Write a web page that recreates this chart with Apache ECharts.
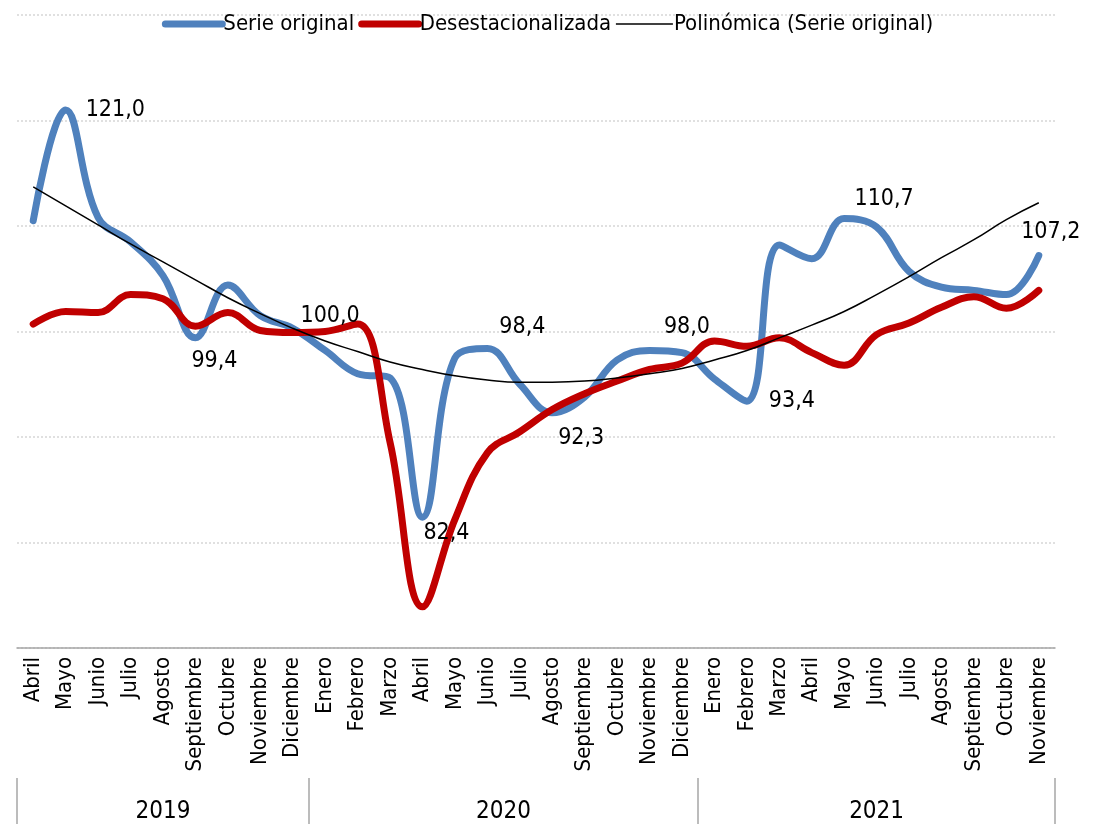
<!DOCTYPE html>
<html>
<head>
<meta charset="utf-8">
<script src="https://cdn.jsdelivr.net/npm/echarts@6/dist/echarts.min.js"></script>
<style>
  html, body { margin: 0; padding: 0; background: #fff; }
  #chart { width: 1095px; height: 824px; }
</style>
</head>
<body>
<div id="chart"></div>
<script>
// meses (abril 2019 - noviembre 2021)
const meses = [
  'Abril', 'Mayo', 'Junio', 'Julio', 'Agosto', 'Septiembre', 'Octubre', 'Noviembre', 'Diciembre',
  'Enero', 'Febrero', 'Marzo', 'Abril', 'Mayo', 'Junio', 'Julio', 'Agosto', 'Septiembre', 'Octubre', 'Noviembre', 'Diciembre',
  'Enero', 'Febrero', 'Marzo', 'Abril', 'Mayo', 'Junio', 'Julio', 'Agosto', 'Septiembre', 'Octubre', 'Noviembre'
]
const anios = ['2019', '2020', '2021']
const aniosCentro = [4.5, 15, 26.5]
const aniosLimites = [0, 9, 21, 32]

const serieOriginal = [
  110.5, 121.0, 110.8, 108.5, 105.3, 99.4, 104.4, 101.5, 100.3,
  98.2, 96.0, 95.6, 82.4, 97.5, 98.4, 95.0, 92.3, 93.8, 97.3, 98.2, 98.0,
  95.5, 93.4, 108.2, 106.9, 110.7, 109.9, 105.7, 104.2, 103.9, 103.5, 107.2
]
const desestacionalizada = [
  100.7, 101.9, 101.8, 103.5, 103.1, 100.5, 101.8, 100.1, 99.9,
  100.0, 100.7, 89.5, 73.9, 82.2, 88.5, 90.5, 92.6, 94.1, 95.3, 96.4, 97.0,
  99.1, 98.6, 99.4, 98.0, 96.8, 99.7, 100.8, 102.3, 103.3, 102.2, 103.9
]
const polinomica = [
  113.7, 111.9, 110.1, 108.3, 106.6, 104.9, 103.2, 101.7, 100.3,
  99.1, 98.1, 97.1, 96.4, 95.8, 95.4, 95.2, 95.2, 95.3, 95.6, 96.0, 96.5,
  97.3, 98.2, 99.4, 100.6, 101.9, 103.5, 105.2, 107.0, 108.7, 110.6, 112.2
]

// etiquetas de datos que se muestran (índice -> posición)
const etiquetasOriginal = {
  1: { position: 'right', distance: 20 },
  5: { position: 'bottom', distance: 12, offset: [19, 0] },
  12: { position: 'bottom', distance: 4, offset: [24, 0] },
  14: { position: 'top', distance: 10, offset: [35, 0] },
  16: { position: 'bottom', distance: 14, offset: [29, 0] },
  20: { position: 'top', distance: 14, offset: [5, 0] },
  22: { position: 'right', distance: 22 },
  25: { position: 'top', distance: 8, offset: [40, 0] },
  31: { position: 'top', distance: 12, offset: [12, 0] }
}
const etiquetasDesest = {
  9: { position: 'top', distance: 4, offset: [5, 0] }
}

const fuente = "'Liberation Sans Narrow', 'Arial Narrow', 'DejaVu Sans Condensed', sans-serif"
const fmt = v => v.toFixed(1).replace('.', ',')

const conEtiquetas = (valores, etiquetas) => valores.map((v, i) => {
  if (!etiquetas[i]) return v
  return { value: v, label: Object.assign({ show: true }, etiquetas[i]) }
})

const chart = echarts.init(document.getElementById('chart'))
chart.setOption({
  animation: false,
  textStyle: { fontFamily: fuente },
  legend: {
    top: 8,
    left: 'center',
    itemWidth: 57,
    itemHeight: 14,
    itemGap: 4,
    textStyle: { fontSize: 22, color: '#000', fontFamily: fuente, padding: [0, 0, 0, -4] },
    data: [
      { name: 'Serie original', lineStyle: { width: 7, cap: 'round' }, itemStyle: { opacity: 0 } },
      { name: 'Desestacionalizada', lineStyle: { width: 7, cap: 'round' }, itemStyle: { opacity: 0 } },
      { name: 'Polinómica (Serie original)', lineStyle: { width: 1.5 }, itemStyle: { opacity: 0 } }
    ]
  },
  grid: { left: 17, right: 40, top: 15, bottom: 176, containLabel: false },
  xAxis: [
    {
      type: 'category',
      data: meses,
      boundaryGap: true,
      axisLine: { lineStyle: { color: '#a6a6a6', width: 1.5 } },
      axisTick: { length: 130, lineStyle: { color: '#a6a6a6', width: 1.5 } },
      axisLabel: { interval: 0, rotate: 90, fontSize: 22, color: '#000', margin: 9, fontFamily: fuente }
    },
    {
      type: 'value',
      min: 0,
      max: 32,
      position: 'bottom',
      offset: 130,
      axisLine: { show: false },
      splitLine: { show: false },
      axisTick: { show: true, length: 50, customValues: aniosLimites, lineStyle: { color: '#a6a6a6', width: 1.5 } },
      axisLabel: {
        customValues: aniosCentro,
        fontSize: 24,
        color: '#000',
        margin: 22,
        fontFamily: fuente,
        formatter: v => anios[aniosCentro.indexOf(v)]
      }
    }
  ],
  yAxis: {
    type: 'value',
    min: 70,
    max: 130,
    interval: 10,
    axisLabel: { show: false },
    axisLine: { show: false },
    axisTick: { show: false },
    splitLine: { lineStyle: { color: '#d6d6d6', type: [2, 2], width: 1.5 } }
  },
  series: [
    {
      name: 'Serie original',
      type: 'line',
      data: conEtiquetas(serieOriginal, etiquetasOriginal),
      smooth: 0.4,
      symbol: 'circle',
      symbolSize: 0,
      showSymbol: true,
      color: '#4F81BD',
      lineStyle: { width: 7, cap: 'round', join: 'round' },
      label: { show: false, formatter: p => fmt(p.value), fontSize: 23, color: '#000', fontFamily: fuente }
    },
    {
      name: 'Desestacionalizada',
      type: 'line',
      data: conEtiquetas(desestacionalizada, etiquetasDesest),
      smooth: 0.4,
      symbol: 'circle',
      symbolSize: 0,
      showSymbol: true,
      color: '#C00000',
      lineStyle: { width: 7, cap: 'round', join: 'round' },
      label: { show: false, formatter: p => fmt(p.value), fontSize: 23, color: '#000', fontFamily: fuente }
    },
    {
      name: 'Polinómica (Serie original)',
      type: 'line',
      data: polinomica,
      smooth: 0.5,
      symbol: 'none',
      color: '#000',
      lineStyle: { width: 1.5 }
    }
  ]
})
</script>
</body>
</html>
